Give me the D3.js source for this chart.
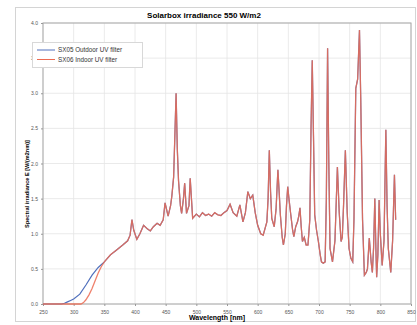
<!DOCTYPE html>
<html>
<head>
<meta charset="utf-8">
<script src="https://cdn.jsdelivr.net/npm/d3@7"></script>
<style>
  body { margin: 0; background: #fff; }
  svg { display: block; font-family: "Liberation Sans", Arial, sans-serif; }
</style>
</head>
<body>
<div id="chart"></div>
<script>
// ---- data ----
const seriesNames = ["SX05 Outdoor UV filter", "SX06 Indoor UV filter"];
const seriesColors = ["#5070bd", "#ec6b52"];

const outdoorNm = [250, 270, 280, 285, 290, 295, 300, 310, 320, 330, 340, 350, 360, 370, 380, 388, 392, 395, 398, 403, 408, 414, 420, 425, 430, 436, 441, 446, 449, 454, 458, 460, 463, 465, 467, 469, 471, 474, 476, 479, 481, 484, 488, 490, 494, 500, 505, 510, 515, 520, 525, 530, 535, 540, 545, 550, 555, 560, 566, 571, 576, 580, 584, 588, 592, 596, 600, 605, 609, 615, 617, 619, 621, 623, 627, 630, 633, 635, 637, 640, 642, 645, 647, 649, 651, 654, 657, 659, 662, 665, 667, 669, 671, 673, 676, 679, 682, 685, 687, 689, 691, 693, 696, 699, 702, 704, 707, 710, 712, 714, 716, 718, 722, 726, 730, 733, 736, 738, 740, 743, 746, 749, 752, 755, 757, 760, 763, 766, 768, 771, 774, 777, 779, 782, 785, 787, 789, 791, 793, 794, 796, 798, 800, 803, 806, 809, 811, 813, 817, 820, 823, 825];
const outdoorE = [0, 0, 0, 0.01, 0.03, 0.05, 0.07, 0.14, 0.27, 0.41, 0.52, 0.6, 0.7, 0.77, 0.84, 0.9, 0.98, 1.2, 1.05, 0.92, 1.0, 1.12, 1.07, 1.04, 1.1, 1.15, 1.12, 1.2, 1.44, 1.25, 1.4, 1.53, 1.81, 2.4, 3.0, 2.2, 1.75, 1.4, 1.29, 1.5, 1.72, 1.29, 1.4, 1.79, 1.22, 1.28, 1.24, 1.3, 1.26, 1.28, 1.25, 1.3, 1.27, 1.26, 1.3, 1.33, 1.42, 1.3, 1.25, 1.41, 1.17, 1.3, 1.6, 1.5, 1.55, 1.3, 1.12, 1.0, 0.98, 1.17, 1.5, 2.19, 1.6, 1.22, 1.1, 1.35, 1.91, 1.6, 1.27, 0.95, 0.84, 1.0, 1.4, 1.67, 1.5, 1.27, 1.05, 0.96, 1.1, 1.17, 1.25, 1.37, 1.1, 0.89, 0.95, 0.84, 0.84, 1.2, 2.5, 3.47, 2.4, 1.27, 1.05, 0.89, 0.7, 0.6, 0.58, 0.6, 1.5, 3.64, 2.0, 0.79, 0.6, 0.9, 1.95, 1.3, 0.89, 0.95, 1.4, 2.19, 1.3, 0.79, 0.65, 0.6, 1.2, 3.07, 3.2, 3.9, 2.95, 1.2, 0.41, 0.45, 0.5, 0.94, 0.6, 0.45, 0.8, 1.5, 0.7, 0.38, 0.7, 1.48, 1.0, 0.55, 0.9, 2.48, 1.4, 0.79, 0.45, 0.9, 1.84, 1.2];

const indoorNm = [250, 270, 290, 305, 312, 316, 320, 325, 330, 335, 340, 345, 350, 360, 370, 380, 388, 392, 395, 398, 403, 408, 414, 420, 425, 430, 436, 441, 446, 449, 454, 458, 460, 463, 465, 467, 469, 471, 474, 476, 479, 481, 484, 488, 490, 494, 500, 505, 510, 515, 520, 525, 530, 535, 540, 545, 550, 555, 560, 566, 571, 576, 580, 584, 588, 592, 596, 600, 605, 609, 615, 617, 619, 621, 623, 627, 630, 633, 635, 637, 640, 642, 645, 647, 649, 651, 654, 657, 659, 662, 665, 667, 669, 671, 673, 676, 679, 682, 685, 687, 689, 691, 693, 696, 699, 702, 704, 707, 710, 712, 714, 716, 718, 722, 726, 730, 733, 736, 738, 740, 743, 746, 749, 752, 755, 757, 760, 763, 766, 768, 771, 774, 777, 779, 782, 785, 787, 789, 791, 793, 794, 796, 798, 800, 803, 806, 809, 811, 813, 817, 820, 823, 825];
const indoorE = [0, 0, 0, 0, 0, 0.02, 0.06, 0.13, 0.22, 0.33, 0.44, 0.53, 0.6, 0.7, 0.77, 0.84, 0.9, 0.98, 1.2, 1.05, 0.92, 1.0, 1.12, 1.07, 1.04, 1.1, 1.15, 1.12, 1.2, 1.44, 1.25, 1.4, 1.53, 1.81, 2.4, 3.0, 2.2, 1.75, 1.4, 1.29, 1.5, 1.72, 1.29, 1.4, 1.79, 1.22, 1.28, 1.24, 1.3, 1.26, 1.28, 1.25, 1.3, 1.27, 1.26, 1.3, 1.33, 1.42, 1.3, 1.25, 1.41, 1.17, 1.3, 1.6, 1.5, 1.55, 1.3, 1.12, 1.0, 0.98, 1.17, 1.5, 2.19, 1.6, 1.22, 1.1, 1.35, 1.91, 1.6, 1.27, 0.95, 0.84, 1.0, 1.4, 1.67, 1.5, 1.27, 1.05, 0.96, 1.1, 1.17, 1.25, 1.37, 1.1, 0.89, 0.95, 0.84, 0.84, 1.2, 2.5, 3.47, 2.4, 1.27, 1.05, 0.89, 0.7, 0.6, 0.58, 0.6, 1.5, 3.64, 2.0, 0.79, 0.6, 0.9, 1.95, 1.3, 0.89, 0.95, 1.4, 2.19, 1.3, 0.79, 0.65, 0.6, 1.2, 3.07, 3.2, 3.9, 2.95, 1.2, 0.41, 0.45, 0.5, 0.94, 0.6, 0.45, 0.8, 1.5, 0.7, 0.38, 0.7, 1.48, 1.0, 0.55, 0.9, 2.48, 1.4, 0.79, 0.45, 0.9, 1.84, 1.2];

const xTicks = [250, 300, 350, 400, 450, 500, 550, 600, 650, 700, 750, 800, 850];
const yTicks = [0, 0.5, 1.0, 1.5, 2.0, 2.5, 3.0, 3.5, 4.0];

// ---- layout ----
const width = 417, height = 325;
const margin = { top: 23, right: 6, bottom: 21, left: 43 };

const svg = d3.select("#chart").append("svg")
  .attr("width", width)
  .attr("height", height);

// outer chart frame
svg.append("rect")
  .attr("x", 15.5).attr("y", 7.5)
  .attr("width", 400).attr("height", 314)
  .attr("fill", "none")
  .attr("stroke", "#d4d4d4");

const x = d3.scaleLinear().domain([250, 850]).range([margin.left, width - margin.right]);
const y = d3.scaleLinear().domain([0, 4]).range([height - margin.bottom, margin.top]);

// grid
svg.append("g").selectAll("line")
  .data(xTicks)
  .enter().append("line")
  .attr("x1", d => x(d)).attr("x2", d => x(d))
  .attr("y1", y(0)).attr("y2", y(4))
  .attr("stroke", "#e4e4e4").attr("stroke-width", 0.8);

svg.append("g").selectAll("line")
  .data(yTicks)
  .enter().append("line")
  .attr("x1", x(250)).attr("x2", x(850))
  .attr("y1", d => y(d)).attr("y2", d => y(d))
  .attr("stroke", "#e4e4e4").attr("stroke-width", 0.8);

// plot border
svg.append("rect")
  .attr("x", x(250)).attr("y", y(4))
  .attr("width", x(850) - x(250)).attr("height", y(0) - y(4))
  .attr("fill", "none")
  .attr("stroke", "#a8a8a8");

// axes
const xAxis = svg.append("g")
  .attr("transform", "translate(0," + y(0) + ")")
  .call(d3.axisBottom(x).tickValues(xTicks).tickSize(2).tickFormat(d3.format("d")));
xAxis.select(".domain").remove();
xAxis.selectAll("text").attr("font-size", 5).attr("fill", "#555").attr("dy", "0.9em");
xAxis.selectAll("line").attr("stroke", "#999");

const yAxis = svg.append("g")
  .attr("transform", "translate(" + x(250) + ",0)")
  .call(d3.axisLeft(y).tickValues(yTicks).tickSize(2).tickFormat(d3.format(".1f")));
yAxis.select(".domain").remove();
yAxis.selectAll("text").attr("font-size", 5).attr("fill", "#555");
yAxis.selectAll("line").attr("stroke", "#999");

// lines
const line = d3.line()
  .x(d => x(d[0]))
  .y(d => y(d[1]));

const outdoor = d3.zip(outdoorNm, outdoorE);
const indoor = d3.zip(indoorNm, indoorE);

svg.append("path")
  .datum(outdoor)
  .attr("fill", "none")
  .attr("stroke", seriesColors[0])
  .attr("stroke-width", 1.2)
  .attr("d", line);

svg.append("path")
  .datum(indoor)
  .attr("fill", "none")
  .attr("stroke", seriesColors[1])
  .attr("stroke-width", 1.3)
  .attr("stroke-opacity", 0.85)
  .attr("d", line);

// title + axis labels
svg.append("text")
  .attr("x", 204).attr("y", 18)
  .attr("text-anchor", "middle")
  .attr("font-size", 8).attr("font-weight", "bold")
  .text("Solarbox irradiance 550 W/m2");

svg.append("text")
  .attr("x", 217).attr("y", 320)
  .attr("text-anchor", "middle")
  .attr("font-size", 7).attr("font-weight", "bold")
  .text("Wavelength [nm]");

svg.append("text")
  .attr("transform", "translate(29,184) rotate(-90)")
  .attr("text-anchor", "middle")
  .attr("font-size", 5.6).attr("font-weight", "bold")
  .text("Spectral irradiance E [W/(m2nm)]");

// legend
const legend = svg.append("g");
legend.append("rect")
  .attr("x", 32.5).attr("y", 42.5)
  .attr("width", 110).attr("height", 25)
  .attr("fill", "#fff")
  .attr("stroke", "#d8d8d8");

const item = legend.selectAll("g")
  .data(seriesNames)
  .enter().append("g")
  .attr("transform", (d, i) => "translate(0," + (50 + i * 9.5) + ")");

item.append("line")
  .attr("x1", 37).attr("x2", 55)
  .attr("stroke", (d, i) => seriesColors[i])
  .attr("stroke-width", 1);

item.append("text")
  .attr("x", 58).attr("dy", "0.35em")
  .attr("font-size", 6.3)
  .attr("fill", "#333")
  .text(d => d);
</script>
</body>
</html>
